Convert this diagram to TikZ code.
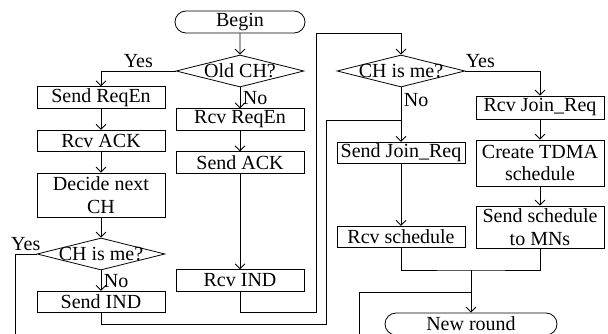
\documentclass[tikz,border=0pt]{standalone}
\usepackage{fontspec}
\setmainfont{Liberation Serif}
\usetikzlibrary{shapes.geometric,shapes.misc,arrows.meta}
\tikzset{
  box/.style={draw, rectangle, minimum width=128pt, minimum height=21.5pt, inner sep=0pt, align=center},
  term/.style={draw, rounded rectangle, minimum height=22pt, inner sep=0pt},
  decision/.style={draw, diamond, aspect=4, minimum width=128pt, minimum height=32pt, inner sep=-6pt},
  line/.style={-{Straight Barb[length=5pt,width=10pt]}},
  lbl/.style={inner sep=2.5pt}
}
\begin{document}
\begin{tikzpicture}[x=1pt, y=-1pt, line width=0.8pt, font=\fontsize{20}{22.5}\selectfont]
    \useasboundingbox (0,0) rectangle (608,334);
    \node[term, minimum width=130pt] (begin) at (240,22) {Begin};
    \node[decision] (oldch) at (240,71) {Old CH?};
    \node[box] (sendreq) at (101,97.5) {Send ReqEn};
    \node[box] (rcvack) at (101,141) {Rcv ACK};
    \node[box, minimum height=44pt] (decide) at (101,195) {Decide next\\CH};
    \node[decision] (chme) at (101,254) {CH is me?};
    \node[box] (sendind) at (101,302) {Send IND};
    \node[box] (rcvreq) at (240,119.5) {Rcv ReqEn};
    \node[box] (sendack) at (240,162.5) {Send ACK};
    \node[box] (rcvind) at (240,280.5) {Rcv IND};
    \node[decision] (chmeR) at (401,71) {CH is me?};
    \node[box] (sendjoin) at (401,153) {Send Join\_Req};
    \node[box] (rcvsch) at (401,237) {Rcv schedule};
    \node[box, minimum height=23pt] (rcvjoin) at (540,107.5) {Rcv Join\_Req};
    \node[box, minimum height=46pt] (create) at (540,163) {Create TDMA\\schedule};
    \node[box, minimum height=42pt] (sendsch) at (540,227) {Send schedule\\to MNs};
    \node[term, minimum width=172pt] (newround) at (471,324) {New round};
    \coordinate (merge) at (471,270);
    \coordinate (merge2) at (471,292);
    \coordinate (joinNo) at (401,120);
    \coordinate (yesL) at (15,334);
    \coordinate (backR) at (359,334);

    \draw[line] (begin) -- (oldch);
    \draw[line] (oldch.west) -| node[lbl, pos=0.25, above] {Yes} (sendreq.north);
    \draw[line] (oldch.south) -- node[lbl, right] {No} (rcvreq.north);
    \draw[line] (sendreq) -- (rcvack);
    \draw[line] (rcvack) -- (decide);
    \draw[line] (decide) -- (chme);
    \draw (chme.west) -| node[lbl, pos=0.25, above] {Yes} (yesL);
    \draw[line] (chme.south) -- node[lbl, right] {No} (sendind.north);
    \draw[line] (rcvreq) -- (sendack);
    \draw[line] (sendack) -- (rcvind);
    \draw (sendind.south) |- (326,324) |- (joinNo);
    \draw[line] (rcvind.south) |- (316,312) |- (401,33) -- (chmeR.north);
    \draw[line] (chmeR.east) -| node[lbl, pos=0.1, above] {Yes} (rcvjoin.north);
    \draw[line] (chmeR.south) -- node[lbl, pos=0.24, right] {No} (sendjoin.north);
    \draw[line] (rcvjoin) -- (create);
    \draw[line] (create) -- (sendsch);
    \draw[line] (sendjoin) -- (rcvsch);
    \draw (rcvsch.south) |- (merge) -| (sendsch.south);
    \draw[line] (merge) -- (newround);
    \draw (backR) |- (merge2);
\end{tikzpicture}
\end{document}
